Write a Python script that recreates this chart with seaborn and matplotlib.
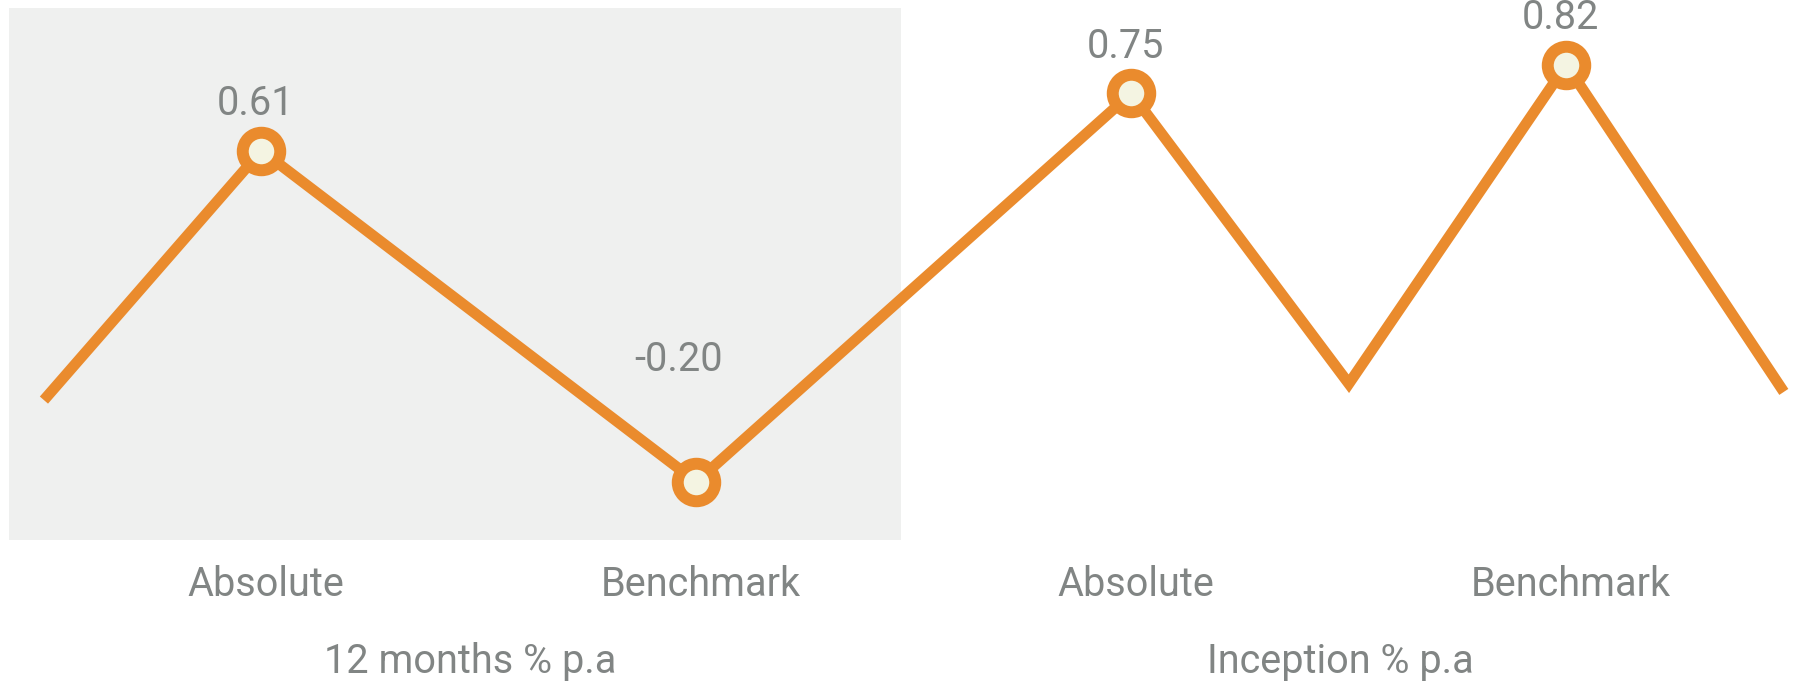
import matplotlib
matplotlib.use("Agg")
import matplotlib.pyplot as plt
import seaborn as sns
import pandas as pd

# Return values shown on the chart
groups = ["12 months % p.a", "Inception % p.a"]
categories = ["Absolute", "Benchmark", "Absolute", "Benchmark"]
values = [0.61, -0.20, 0.75, 0.82]

# Full zig-zag line: lead-in, the four points, a dip between the inception pair, tail
line_steps = [-0.5, 0, 1, 2, 2.5, 3, 3.5]
line_values = [0.0, 0.61, -0.20, 0.75, 0.04, 0.82, 0.02]

orange = "#ea8b2d"
cream = "#f4f4e2"
panel = "#eff0ef"
grey_text = "#818584"

sns.set_style("white")
plt.rcParams["font.family"] = ["Roboto", "DejaVu Sans"]

fig = plt.figure(figsize=(17.96, 6.84), dpi=100)
ax = fig.add_axes([0, 0, 1, 1])
ax.axis("off")
ax.set_xlim(-0.601, 3.528)
ax.set_ylim(-0.694, 0.978)

# shaded panel behind the 12 months pair
ax.axvspan(-0.58, 1.47, ymin=0.21, ymax=0.988, color=panel, lw=0, zorder=0)

line_df = pd.DataFrame({"step": line_steps, "value": line_values})
sns.lineplot(data=line_df, x="step", y="value", ax=ax, color=orange,
             linewidth=7.8, sort=False, zorder=2)
for ln in ax.lines:
    ln.set_solid_joinstyle("miter")
    ln.set_solid_capstyle("butt")

pts = pd.DataFrame({"pos": range(len(values)), "value": values})
sns.scatterplot(data=pts, x="pos", y="value", ax=ax, s=27 ** 2,
                color=cream, edgecolor=orange, linewidth=8.6, zorder=3)

# value labels above each point
label_offsets = {True: (-4, 25.5), False: (-13, 80)}
for i, v in enumerate(values):
    dx, dy = label_offsets[v >= 0]
    ax.annotate(f"{v:.2f}", (i, v), xytext=(dx, dy), textcoords="offset points",
                ha="center", va="baseline", fontsize=28.5, color=grey_text,
                zorder=4)

# category labels and group labels underneath
xt = ax.get_xaxis_transform()
for i, c in enumerate(categories):
    ax.text(i + 0.01, 0.1287, c, transform=xt, ha="center", va="baseline",
            fontsize=28.5, color=grey_text)
for g, name in enumerate(groups):
    ax.text(2 * g + 0.48, 0.0161, name, transform=xt, ha="center", va="baseline",
            fontsize=28.5, color=grey_text)

fig.savefig("out.png", dpi=100)
